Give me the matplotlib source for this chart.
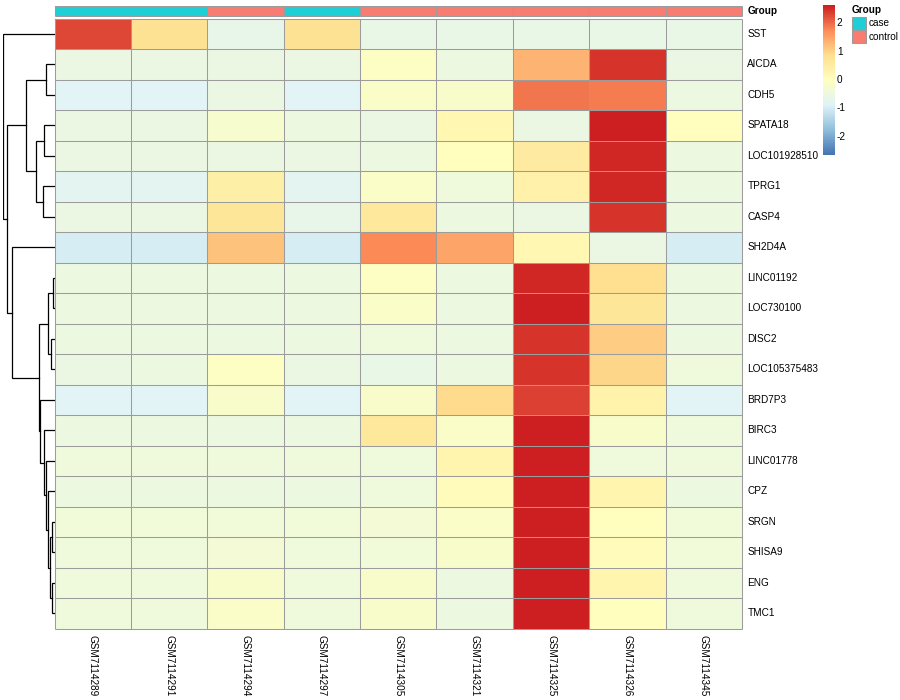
import numpy as np
import matplotlib
matplotlib.use("Agg")
import matplotlib.pyplot as plt
from matplotlib.colors import LinearSegmentedColormap, ListedColormap
from matplotlib.patches import Rectangle

plt.rcParams['font.family'] = ['Liberation Sans', 'DejaVu Sans']

genes = ["SST", "AICDA", "CDH5", "SPATA18", "LOC101928510", "TPRG1", "CASP4",
         "SH2D4A", "LINC01192", "LOC730100", "DISC2", "LOC105375483", "BRD7P3",
         "BIRC3", "LINC01778", "CPZ", "SRGN", "SHISA9", "ENG", "TMC1"]
samples = ["GSM7114289", "GSM7114291", "GSM7114294", "GSM7114297", "GSM7114305",
           "GSM7114321", "GSM7114325", "GSM7114326", "GSM7114345"]
groups = ["case", "case", "control", "case", "control", "control", "control", "control", "control"]

values = np.array([
    [2.30, 0.80, -0.65, 0.80, -0.62, -0.62, -0.62, -0.62, -0.62],   # SST
    [-0.58, -0.58, -0.55, -0.58, -0.10, -0.50, 1.35, 2.45, -0.55],  # AICDA
    [-0.80, -0.80, -0.55, -0.80, -0.15, -0.20, 1.95, 1.90, -0.50],  # CDH5
    [-0.55, -0.55, -0.25, -0.50, -0.55, 0.25, -0.55, 2.62, 0.02],   # SPATA18
    [-0.55, -0.55, -0.55, -0.55, -0.50, 0.05, 0.55, 2.58, -0.50],   # LOC101928510
    [-0.75, -0.75, 0.45, -0.75, -0.15, -0.45, 0.40, 2.55, -0.50],   # TPRG1
    [-0.58, -0.58, 0.70, -0.65, 0.65, -0.50, -0.55, 2.45, -0.50],   # CASP4
    [-1.00, -1.00, 1.20, -1.00, 1.80, 1.50, 0.25, -0.55, -1.00],    # SH2D4A
    [-0.50, -0.50, -0.50, -0.50, -0.10, -0.50, 2.55, 0.85, -0.50],  # LINC01192
    [-0.50, -0.50, -0.50, -0.50, -0.15, -0.50, 2.60, 0.70, -0.50],  # LOC730100
    [-0.50, -0.50, -0.50, -0.50, -0.45, -0.50, 2.45, 1.10, -0.50],  # DISC2
    [-0.55, -0.50, -0.07, -0.55, -0.60, -0.50, 2.45, 1.00, -0.45],  # LOC105375483
    [-0.80, -0.80, -0.20, -0.80, -0.20, 0.95, 2.35, 0.35, -0.80],   # BRD7P3
    [-0.50, -0.50, -0.50, -0.50, 0.65, -0.15, 2.60, -0.20, -0.45],  # BIRC3
    [-0.45, -0.45, -0.45, -0.45, -0.45, 0.30, 2.65, -0.45, -0.45],  # LINC01778
    [-0.50, -0.50, -0.50, -0.50, -0.45, 0.10, 2.62, 0.30, -0.50],   # CPZ
    [-0.40, -0.40, -0.40, -0.40, -0.35, -0.15, 2.65, 0.05, -0.40],  # SRGN
    [-0.45, -0.45, -0.35, -0.45, -0.40, -0.20, 2.65, 0.08, -0.40],  # SHISA9
    [-0.45, -0.45, -0.20, -0.45, -0.20, -0.50, 2.65, 0.30, -0.45],  # ENG
    [-0.45, -0.45, -0.15, -0.45, -0.20, -0.50, 2.65, 0.05, -0.45],  # TMC1
])

# row dendrogram merges: (child_a, child_b, height); leaves 0..19, nodes 20+
merges = [
    (1, 2, 8.8), (3, 4, 10.2), (5, 6, 11.2), (21, 22, 18.5), (20, 23, 28.5),
    (8, 9, 1.5), (10, 11, 3.5), (25, 26, 6.2), (16, 17, 2.5), (18, 19, 2.5),
    (28, 29, 4.0), (15, 30, 6.2), (14, 31, 8.0), (13, 32, 10.2), (12, 33, 14.5),
    (27, 34, 15.8), (7, 35, 42.2), (24, 36, 47.2), (0, 37, 51.8),
]

legend_ticks = [-2, -1, 0, 1, 2]
vlim = 2.65
group_colors = {"case": "#1FCFD6", "control": "#F87C72"}

cmap = LinearSegmentedColormap.from_list(
    "rdylbu", ["#4575B4", "#91BFDB", "#E0F3F8", "#FFFFBF", "#FEE090", "#FC8D59", "#CD1F21"], N=100)

W, H = 900, 700
fig = plt.figure(figsize=(9, 7), dpi=100)

def ax_px(x0, y0, x1, y1):
    return fig.add_axes([x0 / W, 1 - y1 / H, (x1 - x0) / W, (y1 - y0) / H])

nr, nc = values.shape
hx0, hx1, hy0, hy1 = 54.5, 742.0, 18.7, 628.7
edge = "#9c9c9c"
elw = 0.75

def grid_lines(axis, nx, ny):
    for x in range(nx + 1):
        axis.plot([x, x], [0, ny], color=edge, lw=elw, solid_capstyle="butt", clip_on=False)
    for y in range(ny + 1):
        axis.plot([0, nx], [y, y], color=edge, lw=elw, solid_capstyle="butt", clip_on=False)

# heatmap
ax = ax_px(hx0, hy0, hx1, hy1)
ax.pcolormesh(np.arange(nc + 1), np.arange(nr + 1), values, cmap=cmap, vmin=-vlim, vmax=vlim)
grid_lines(ax, nc, nr)
ax.set_xlim(0, nc)
ax.set_ylim(nr, 0)
ax.axis("off")
for i, g in enumerate(genes):
    ax.text(nc + 0.07, i + 0.5, g, ha="left", va="center", fontsize=7.2)
for j, s in enumerate(samples):
    ax.text(j + 0.5, nr + 0.2, s, ha="center", va="top", rotation=270, fontsize=7.2)

# annotation bar
axa = ax_px(hx0, 6.0, hx1, 16.0)
gvals = np.array([[0 if g == "case" else 1 for g in groups]])
axa.pcolormesh(np.arange(nc + 1), [0, 1], gvals,
               cmap=ListedColormap([group_colors["case"], group_colors["control"]]),
               vmin=0, vmax=1)
grid_lines(axa, nc, 1)
axa.set_xlim(0, nc)
axa.set_ylim(1, 0)
axa.axis("off")
axa.text(nc + 0.07, 0.5, "Group", ha="left", va="center", fontsize=7.2, fontweight="bold")

# dendrogram
axd = ax_px(2.7, hy0, hx0, hy1)
pos = {i: i + 0.5 for i in range(nr)}
hgt = {i: 0.0 for i in range(nr)}
for k, (a, b, h) in enumerate(merges):
    node = nr + k
    axd.plot([hgt[a], h, h, hgt[b]], [pos[a], pos[a], pos[b], pos[b]], color="black", lw=0.9,
             solid_joinstyle="miter")
    pos[node] = (pos[a] + pos[b]) / 2
    hgt[node] = h
root_h = merges[-1][2]
axd.set_xlim(root_h, 0)
axd.set_ylim(nr, 0)
axd.axis("off")

# colour legend
axc = ax_px(822.7, 5.0, 834.0, 155.0)
grad = np.linspace(-vlim, vlim, 100).reshape(-1, 1)
axc.imshow(grad, cmap=cmap, vmin=-vlim, vmax=vlim, aspect="auto", origin="lower",
           extent=[0, 1, -vlim, vlim])
axc.set_xlim(0, 1)
axc.set_ylim(-vlim, vlim)
axc.axis("off")
for t in legend_ticks:
    axc.text(1.25, t, str(t), ha="left", va="center", fontsize=7.2)

# group legend
fig.text(852 / W, 1 - 10 / H, "Group", ha="left", va="center", fontsize=7.2, fontweight="bold")
for k, g in enumerate(["case", "control"]):
    y0 = 16.5 + k * 13.7
    fig.patches.append(Rectangle((852 / W, 1 - (y0 + 13.2) / H), 14 / W, 13.2 / H,
                                 transform=fig.transFigure, facecolor=group_colors[g],
                                 edgecolor=edge, linewidth=elw))
    fig.text(869 / W, 1 - (y0 + 6.6) / H, g, ha="left", va="center", fontsize=7.2)

fig.savefig("out.png", dpi=100)
